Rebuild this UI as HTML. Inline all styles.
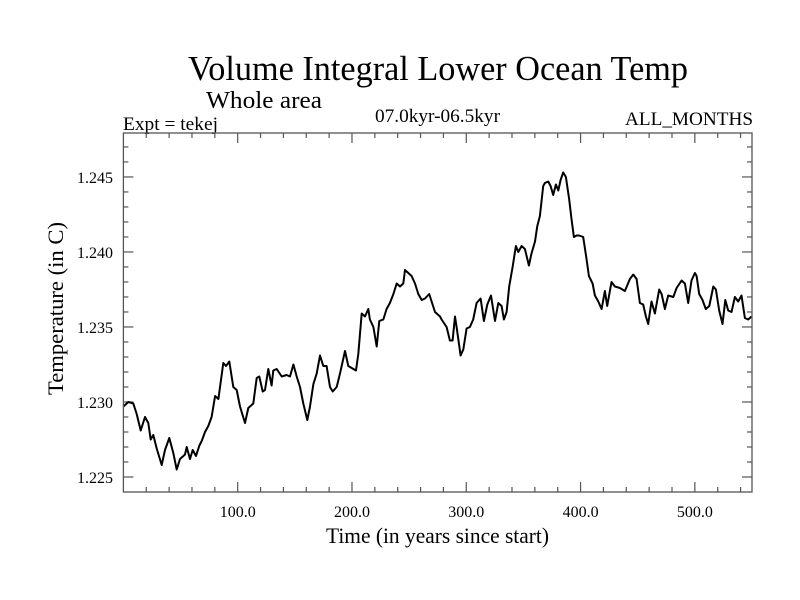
<!DOCTYPE html>
<html><head><meta charset="utf-8"><style>
html,body{margin:0;padding:0;background:#fff;width:800px;height:600px;overflow:hidden}
svg{display:block;font-family:"Liberation Serif",serif}
</style></head><body>
<svg id="chart" width="800" height="600">
<text x="188" y="80" font-size="35" textLength="500" lengthAdjust="spacingAndGlyphs">Volume Integral Lower Ocean Temp</text>
<text x="206" y="108" font-size="24" textLength="116" lengthAdjust="spacingAndGlyphs">Whole area</text>
<text x="123" y="130" font-size="19" textLength="95" lengthAdjust="spacingAndGlyphs">Expt = tekej</text>
<text x="375" y="122" font-size="19" textLength="125" lengthAdjust="spacingAndGlyphs">07.0kyr-06.5kyr</text>
<text x="625" y="125" font-size="19" textLength="128" lengthAdjust="spacingAndGlyphs">ALL_MONTHS</text>
<text x="326" y="543" font-size="22" textLength="223" lengthAdjust="spacingAndGlyphs">Time (in years since start)</text>
<text transform="translate(63,395) rotate(-90)" font-size="22" textLength="173" lengthAdjust="spacingAndGlyphs">Temperature (in C)</text>
<g id="axes"></g>
<path id="series" fill="none" stroke="#000" stroke-width="2" stroke-linejoin="round"></path>
<rect x="123.4" y="133" width="628.6" height="359" fill="none" stroke="#555" stroke-width="1.3"></rect>
</svg>
<script>
const years = [0,4.3,8.7,11.6,15.1,18.9,21.8,23.9,26.2,29.1,33.5,36.4,40.2,43.7,46.6,49.5,53.9,55.4,58.3,60.6,63.5,66.5,68.5,71.4,74.3,77.2,80.2,83.1,87.4,89.8,92.7,96.2,99.1,102.0,106.4,109.3,113.7,116.6,118.9,121.9,123.9,126.8,129.7,131.2,134.1,138.5,142.8,145.8,148.7,151.6,154.5,157.4,160.9,163.3,166.2,169.1,172.0,174.9,177.8,180.8,183.1,186.6,189.5,193.9,196.8,201.2,203.5,205.5,208.5,211.4,214.3,215.7,218.7,221.6,223.9,227.4,230.3,233.2,236.2,239.1,242.0,244.9,246.4,249.3,252.2,255.1,258.0,261.0,263.9,267.6,269.7,272.6,277.0,278.4,282.8,285.7,288.0,290.1,291.5,295.0,297.4,300.3,303.2,306.1,309.0,312.5,315.4,318.4,321.6,325.1,328.0,330.9,332.9,335.3,337.6,340.5,343.4,345.5,348.4,351.3,354.8,357.1,360.1,362.1,364.4,367.3,368.8,371.7,373.8,376.1,378.4,380.5,382.5,384.8,387.2,390.1,392.1,394.2,396.5,398.8,402.3,405.3,407.3,410.5,412.5,415.5,418.4,421.3,423.3,427.1,430.0,434.4,438.8,443.2,446.1,449.0,451.9,454.8,457.2,459.2,462.1,465.0,468.8,470.9,473.8,476.7,481.1,484.0,488.4,491.3,494.2,497.1,500.0,501.5,503.8,506.7,509.6,512.6,516.1,518.4,521.3,524.2,526.6,529.2,532.1,535.0,537.9,540.8,543.8,546.7,549.6];
const temps = [1.2297,1.2300,1.2299,1.2292,1.2281,1.2290,1.2286,1.2275,1.2278,1.2269,1.2258,1.2268,1.2276,1.2266,1.2255,1.2262,1.2265,1.2270,1.2262,1.2268,1.2264,1.2271,1.2274,1.2280,1.2284,1.2290,1.2304,1.2302,1.2326,1.2324,1.2327,1.2310,1.2308,1.2297,1.2286,1.2296,1.2299,1.2316,1.2317,1.2307,1.2308,1.2322,1.2311,1.2321,1.2322,1.2317,1.2318,1.2317,1.2325,1.2317,1.2310,1.2299,1.2288,1.2297,1.2312,1.2319,1.2331,1.2324,1.2324,1.2310,1.2307,1.2310,1.2319,1.2334,1.2324,1.2322,1.2321,1.2332,1.2359,1.2357,1.2362,1.2355,1.2350,1.2337,1.2354,1.2355,1.2362,1.2366,1.2372,1.2379,1.2377,1.2379,1.2388,1.2386,1.2384,1.2379,1.2372,1.2368,1.2369,1.2372,1.2367,1.2360,1.2357,1.2355,1.2350,1.2341,1.2341,1.2357,1.2350,1.2331,1.2335,1.2349,1.2350,1.2355,1.2366,1.2369,1.2354,1.2365,1.2371,1.2354,1.2366,1.2364,1.2355,1.2360,1.2377,1.2390,1.2404,1.2400,1.2404,1.2402,1.2391,1.2399,1.2407,1.2417,1.2424,1.2444,1.2446,1.2447,1.2444,1.2438,1.2445,1.2441,1.2448,1.2453,1.2450,1.2435,1.2422,1.2410,1.2411,1.2411,1.2410,1.2395,1.2384,1.2379,1.2371,1.2367,1.2362,1.2374,1.2364,1.2380,1.2377,1.2376,1.2374,1.2382,1.2385,1.2382,1.2366,1.2365,1.2357,1.2352,1.2367,1.2359,1.2375,1.2372,1.2362,1.2371,1.2370,1.2376,1.2381,1.2379,1.2366,1.2381,1.2386,1.2384,1.2372,1.2368,1.2362,1.2364,1.2377,1.2375,1.2361,1.2352,1.2368,1.2361,1.2360,1.2370,1.2367,1.2371,1.2356,1.2355,1.2357];
const xTickVals = [100,200,300,400,500];
const xTickLabels = ["100.0","200.0","300.0","400.0","500.0"];
const yTickVals = [1.225,1.230,1.235,1.240,1.245];
const yTickLabels = ["1.225","1.230","1.235","1.240","1.245"];

const X0=123.4, X1=752, Y0=492, Y1=133, XMIN=0, XMAX=550, YMIN=1.224, YMAX=1.24793;
const xs = v => X0 + (v-XMIN)/(XMAX-XMIN)*(X1-X0);
const ys = v => Y0 - (v-YMIN)/(YMAX-YMIN)*(Y0-Y1);
const NS="http://www.w3.org/2000/svg";
const axes=document.getElementById('axes');
function line(x1,y1,x2,y2,name){
  const l=document.createElementNS(NS,'line');
  l.setAttribute('x1',x1);l.setAttribute('y1',y1);l.setAttribute('x2',x2);l.setAttribute('y2',y2);
  l.setAttribute('stroke','#555');l.setAttribute('stroke-width','1.2');
  
  
  axes.appendChild(l);
}
function text(x,y,s,anchor,name){
  const t=document.createElementNS(NS,'text');
  t.setAttribute('x',x);t.setAttribute('y',y);t.setAttribute('font-size','16');t.setAttribute('text-anchor',anchor);
  t.textContent=s;
  
  
  document.getElementById('chart').appendChild(t);
}
for(let v=20; v<XMAX; v+=20){
  const major = xTickVals.includes(v);
  const len = major?10:5;
  line(xs(v),Y0,xs(v),Y0-len,'x-tick');
  line(xs(v),Y1,xs(v),Y1+len,'x-tick-top');
}
xTickVals.forEach((v,i)=>text(xs(v),517,xTickLabels[i],'middle','x-tick-label'));
for(let k=1225;k<=1247;k++){
  const v=k/1000;
  const major = k%5===0;
  const len = major?10:5;
  line(X0,ys(v),X0+len,ys(v),'y-tick');
  line(X1,ys(v),X1-len,ys(v),'y-tick-right');
}
yTickVals.forEach((v,i)=>text(113,ys(v)+6,yTickLabels[i],'end','y-tick-label'));
let d='';
years.forEach((yr,i)=>{ d += (i?'L':'M') + xs(yr).toFixed(1) + ',' + ys(temps[i]).toFixed(1); });
document.getElementById('series').setAttribute('d',d);
</script>
</body></html>
